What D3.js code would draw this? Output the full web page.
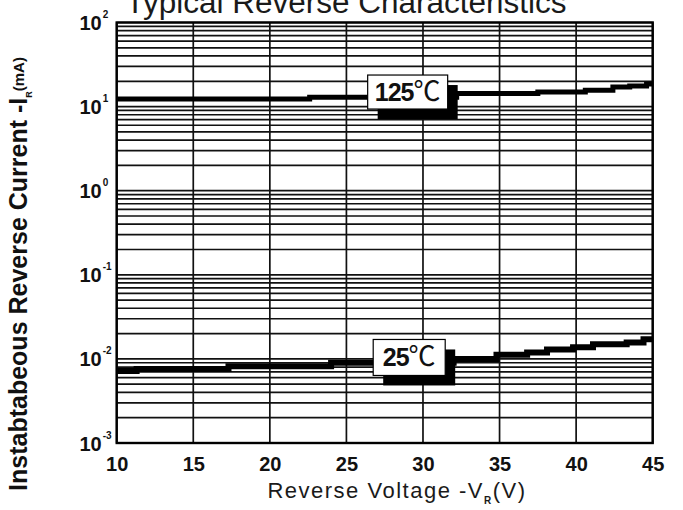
<!DOCTYPE html>
<html>
<head>
<meta charset="utf-8">
<script src="https://cdn.jsdelivr.net/npm/d3@7"></script>
<style>
  body { margin: 0; background: #fff; }
  svg { display: block; font-family: "Liberation Sans", Arial, sans-serif; }
</style>
</head>
<body>
<div id="viz"></div>
<script>
// values
let xTicks = [10, 15, 20, 25, 30, 35, 40, 45];
let yDecades = [1e-3, 1e-2, 1e-1, 1e0, 1e1, 1e2];
let yExponents = ['-3', '-2', '-1', '0', '1', '2'];

let volt125 = [10, 22.6, 32.2, 37.5, 40.6, 42.4, 43.5, 44.6, 45];
let curr125 = [12.3, 12.9, 14.3, 14.9, 15.7, 17.1, 17.6, 18.6, 18.6];

let volt25 = [10, 11.3, 17.3, 24, 32, 34.8, 36.8, 38.1, 39.8, 41.1, 43.3, 44.4, 45];
let curr25 = [0.0072, 0.0076, 0.0082, 0.0090, 0.0100, 0.0112, 0.0119, 0.0129, 0.0138, 0.0149, 0.0157, 0.0171, 0.0171];

let labelText = ['125', '25'];
let labelVolt = [29, 29.1];
let labelCurr = [14.9, 0.0104];

let width = 683,
    height = 510,
    pLeft = 116.7,
    pRight = 652.7,
    pTop = 22.5,
    pBottom = 443;

let svg = d3.select('#viz').append('svg')
    .attr('width', width)
    .attr('height', height);

let xScale = d3.scaleLinear()
      .domain([10, 45])
      .range([pLeft, pRight]);
let yScale = d3.scaleLog()
      .domain([1e-3, 1e2])
      .range([pBottom, pTop]);

// grid
let minor = [];
yDecades.slice(0, -1).forEach(function(d){
  for (let k = 2; k <= 9; k++) minor.push(d * k);
});

svg.append('g').selectAll('line').data(minor.concat(yDecades))
  .enter().append('line')
    .attr('x1', pLeft).attr('x2', pRight)
    .attr('y1', d => yScale(d)).attr('y2', d => yScale(d))
    .attr('stroke', '#111')
    .attr('stroke-width', 1.7);

svg.append('g').selectAll('line').data(xTicks)
  .enter().append('line')
    .attr('x1', d => xScale(d)).attr('x2', d => xScale(d))
    .attr('y1', pTop).attr('y2', pBottom)
    .attr('stroke', '#111')
    .attr('stroke-width', 1.7);

svg.append('rect')
  .attr('x', pLeft).attr('y', pTop)
  .attr('width', pRight - pLeft).attr('height', pBottom - pTop)
  .attr('fill', 'none')
  .attr('stroke', '#000')
  .attr('stroke-width', 2.4);

// x axis
let xAxis = d3.axisBottom(xScale).tickValues(xTicks).tickSize(0).tickPadding(14);
let xg = svg.append('g')
  .attr('transform', 'translate(0,' + pBottom + ')')
  .call(xAxis);
xg.select('.domain').remove();
xg.selectAll('text')
  .attr('fill', '#111')
  .style('font-size', '20px')
  .style('font-weight', 'bold')
  .style('font-family', '"Liberation Sans", Arial, sans-serif');

// y axis with superscript exponents
let yAxis = d3.axisLeft(yScale).tickValues(yDecades).tickSize(0).tickFormat('');
let yg = svg.append('g')
  .attr('transform', 'translate(' + pLeft + ',0)')
  .call(yAxis);
yg.select('.domain').remove();
yg.selectAll('.tick').each(function(d, i){
  d3.select(this).append('text')
    .attr('x', -15)
    .attr('y', 7)
    .attr('text-anchor', 'end')
    .attr('fill', '#111')
    .style('font-size', '20px')
    .style('font-weight', 'bold')
    .style('font-family', '"Liberation Sans", Arial, sans-serif')
    .text('10');
  d3.select(this).append('text')
    .attr('x', -14)
    .attr('y', -5)
    .attr('text-anchor', 'start')
    .attr('fill', '#111')
    .style('font-size', '10px')
    .style('font-weight', 'bold')
    .style('font-family', '"Liberation Sans", Arial, sans-serif')
    .text(yExponents[i]);
});

// curves
let line = d3.line()
  .x(d => xScale(d[0]))
  .y(d => yScale(d[1]))
  .curve(d3.curveStepAfter);

svg.append('path')
  .datum(d3.zip(volt125, curr125))
  .attr('d', line)
  .attr('fill', 'none')
  .attr('stroke', '#000')
  .attr('stroke-width', 5);

svg.append('path')
  .datum(d3.zip(volt25, curr25))
  .attr('d', line)
  .attr('fill', 'none')
  .attr('stroke', '#000')
  .attr('stroke-width', 6);

// temperature tags with drop shadow
let boxW = [80, 72],
    boxH = [34, 36];
labelText.forEach(function(txt, i){
  let cx = xScale(labelVolt[i]),
      cy = yScale(labelCurr[i]);
  let g = svg.append('g');
  g.append('rect')
    .attr('x', cx - boxW[i] / 2 + 10).attr('y', cy - boxH[i] / 2 + 10)
    .attr('width', boxW[i]).attr('height', boxH[i])
    .attr('fill', '#000');
  g.append('rect')
    .attr('x', cx - boxW[i] / 2).attr('y', cy - boxH[i] / 2)
    .attr('width', boxW[i]).attr('height', boxH[i])
    .attr('fill', '#fff')
    .attr('stroke', '#000')
    .attr('stroke-width', 1.2);
  let t = g.append('text')
    .attr('x', cx)
    .attr('y', cy + 9)
    .attr('text-anchor', 'middle')
    .attr('fill', '#111')
    .style('font-size', '25px');
  t.append('tspan')
    .style('font-weight', 'bold')
    .style('letter-spacing', '-1px')
    .text(txt);
  t.append('tspan')
    .style('font-family', '"Noto Sans CJK SC", sans-serif')
    .style('font-weight', 'normal')
    .style('font-size', '27px')
    .text('\u2103');
});

// titles
svg.append('text')
  .attr('x', 346)
  .attr('y', 13)
  .attr('text-anchor', 'middle')
  .attr('fill', '#1a1a1a')
  .attr('textLength', 441)
  .attr('lengthAdjust', 'spacingAndGlyphs')
  .style('font-size', '31px')
  .text('Typical Reverse Characteristics');

let xt = svg.append('text')
  .attr('x', 397)
  .attr('y', 498)
  .attr('text-anchor', 'middle')
  .attr('fill', '#1a1a1a')
  .style('font-size', '22px')
  .style('letter-spacing', '1.5px');
xt.append('tspan').text('Reverse Voltage -V');
xt.append('tspan').attr('dy', 6).style('font-size', '10px').style('font-weight', 'bold').text('R');
xt.append('tspan').attr('dy', -6).text('(V)');

let yt = svg.append('text')
  .attr('transform', 'translate(27,274) rotate(-90)')
  .attr('text-anchor', 'middle')
  .attr('fill', '#111')
  .style('font-size', '25px')
  .style('font-weight', 'bold');
yt.append('tspan').text('Instabtabeous Reverse Current -I');
yt.append('tspan').attr('dy', 5).style('font-size', '9px').text('R');
yt.append('tspan').attr('dy', -8).style('font-size', '15px').text('(mA)');
</script>
</body>
</html>
